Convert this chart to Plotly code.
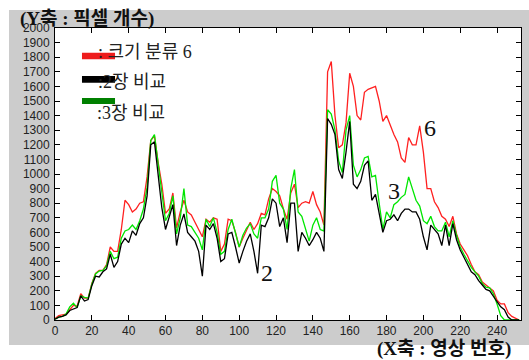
import plotly.graph_objects as go

# Image number (X axis)
x_vals = list(range(0, 254, 2))

# 크기 분류 6 (red)
red_vals = [10, 30, 35, 40, 70, 100, 95, 180, 150, 150,
            250, 320, 340, 340, 380, 500, 470, 470, 620, 820,
            790, 740, 760, 800, 810, 980, 1230, 1260, 1080, 930,
            730, 760, 870, 630, 740, 820, 740, 720, 670, 620,
            570, 690, 670, 700, 690, 470, 520, 690, 680, 600,
            500, 560, 620, 670, 620, 660, 730, 720, 830, 900,
            880, 850, 760, 690, 870, 930, 770, 800, 810, 800,
            880, 790, 740, 650, 1700, 1770, 1400, 1180, 1200, 1350,
            1690, 1600, 1400, 1370, 1560, 1580, 1590, 1600, 1500, 1360,
            1400, 1330, 1270, 1220, 1110, 1080, 1250, 1200, 1200, 1330,
            1150, 900, 900, 810, 770, 710, 690, 640, 710, 590,
            520, 480, 440, 380, 330, 310, 260, 240, 220, 200,
            135, 110, 110, 50, 25, 15, 0]

# 3장 비교 (green)
green_vals = [5, 20, 25, 40, 90, 115, 85, 165, 155, 150,
              245, 315, 335, 340, 370, 470, 420, 430, 560, 610,
              620, 650, 620, 680, 760, 910, 1230, 1270, 1070, 880,
              680, 730, 850, 590, 700, 900, 650, 640, 600, 560,
              480, 690, 640, 700, 600, 450, 470, 620, 690, 590,
              500, 580, 630, 660, 590, 560, 700, 700, 760, 950,
              990, 800, 760, 620, 900, 1030, 740, 710, 620, 540,
              650, 700, 620, 610, 1440, 1410, 1300, 1090, 1010, 1300,
              1400, 1060, 980, 1030, 1110, 1120, 980, 990, 800, 620,
              740, 700, 790, 810, 840, 860, 980, 900, 820, 780,
              680, 660, 710, 640, 610, 610, 670, 570, 680, 580,
              500, 450, 400, 360, 330, 300, 250, 225, 220, 180,
              110, 30, 0, 0, 0, 0, 0]

# 2장 비교 (black)
black_vals = [5, 20, 25, 35, 65, 75, 85, 165, 130, 140,
              235, 300, 295, 330, 350, 450, 360, 400, 520, 560,
              530, 610, 580, 660, 700, 850, 1200, 1220, 980, 770,
              620, 710, 790, 510, 650, 726, 600, 570, 540, 470,
              300, 650, 620, 660, 560, 400, 420, 590, 600, 500,
              390, 470, 540, 590, 470, 320, 650, 640, 700, 830,
              800, 640, 700, 530, 800, 800, 470, 600, 560, 510,
              550, 600, 560, 470, 1380, 1340, 1270, 1030, 970, 1150,
              1360, 930, 900, 950, 1060, 1090, 820, 860, 740, 600,
              680, 690, 720, 680, 730, 760, 760, 740, 740, 690,
              570, 480, 650, 620, 590, 510, 650, 510, 660, 550,
              480, 430, 380, 330, 310, 270, 240, 210, 200, 160,
              125, 90, 70, 20, 0, 0, 0]

x_ticks = list(range(0, 241, 20))
y_ticks = list(range(0, 2001, 100))

legend_labels = [": 크기 분류 6", ":2장 비교", ":3장 비교"]
curve_labels = ["2", "3", "6"]
title_y = "(Y축 : 픽셀 개수)"
title_x = "(X축 : 영상 번호)"

fig = go.Figure()
fig.add_trace(go.Scatter(x=x_vals, y=red_vals, mode="lines",
                         line=dict(color="#ff2020", width=1.3), name="6"))
fig.add_trace(go.Scatter(x=x_vals, y=green_vals, mode="lines",
                         line=dict(color="#00e600", width=1.3), name="3"))
fig.add_trace(go.Scatter(x=x_vals, y=black_vals, mode="lines",
                         line=dict(color="#000000", width=1.3), name="2"))

serif = "Liberation Serif, Noto Sans CJK KR, serif"
shapes = [
    dict(type="rect", xref="paper", yref="paper", x0=-0.0987, x1=1.05,
         y0=-0.0856, y1=1.0616, fillcolor="#cccccc", line=dict(width=0), layer="below"),
    dict(type="rect", xref="paper", yref="paper", x0=0, x1=1, y0=0, y1=1,
         fillcolor="#ffffff", line=dict(width=0), layer="below"),
    dict(type="rect", xref="paper", yref="paper", x0=0.0579, x1=0.1288,
         y0=0.8928, y1=0.9154, fillcolor="#ee1c1c", line=dict(width=0)),
    dict(type="rect", xref="paper", yref="paper", x0=0.0579, x1=0.1288,
         y0=0.8127, y1=0.8356, fillcolor="#000000", line=dict(width=0)),
    dict(type="rect", xref="paper", yref="paper", x0=0.0579, x1=0.1288,
         y0=0.7397, y1=0.7603, fillcolor="#008000", line=dict(width=0)),
]

annotations = [
    dict(text=legend_labels[0], x=0.088, y=0.9195, xref="paper", yref="paper",
         xanchor="left", yanchor="middle", showarrow=False,
         font=dict(family=serif, size=18, color="#222")),
    dict(text=legend_labels[1], x=0.088, y=0.8134, xref="paper", yref="paper",
         xanchor="left", yanchor="middle", showarrow=False,
         font=dict(family=serif, size=18, color="#222")),
    dict(text=legend_labels[2], x=0.086, y=0.7089, xref="paper", yref="paper",
         xanchor="left", yanchor="middle", showarrow=False,
         font=dict(family=serif, size=18, color="#222")),
    dict(text=curve_labels[0], x=0.455, y=0.161, xref="paper", yref="paper",
         xanchor="center", yanchor="middle", showarrow=False,
         font=dict(family=serif, size=24, color="#111")),
    dict(text=curve_labels[1], x=0.7275, y=0.4418, xref="paper", yref="paper",
         xanchor="center", yanchor="middle", showarrow=False,
         font=dict(family=serif, size=24, color="#111")),
    dict(text=curve_labels[2], x=0.8047, y=0.6575, xref="paper", yref="paper",
         xanchor="center", yanchor="middle", showarrow=False,
         font=dict(family=serif, size=24, color="#111")),
    dict(text="<b>" + title_y + "</b>", x=-0.0794, y=1.0308, xref="paper", yref="paper",
         xanchor="left", yanchor="middle", showarrow=False,
         font=dict(family=serif, size=19, color="#111")),
    dict(text="<b>" + title_x + "</b>", x=0.9835, y=-0.1009, xref="paper", yref="paper",
         xanchor="right", yanchor="middle", showarrow=False,
         font=dict(family=serif, size=19, color="#111")),
]

axis_common = dict(showgrid=False, zeroline=False, showline=True, linecolor="#000",
                   linewidth=1, mirror="ticks", ticks="inside", ticklen=5,
                   tickcolor="#000", tickwidth=1,
                   tickfont=dict(family="Liberation Sans, Arial, sans-serif", size=12, color="#222"))

fig.update_layout(
    width=529, height=360,
    margin=dict(l=55, r=8, t=28, b=40),
    paper_bgcolor="#ffffff", plot_bgcolor="#ffffff",
    showlegend=False,
    shapes=shapes, annotations=annotations,
    xaxis=dict(range=[0, 253], tickvals=x_ticks, ticktext=[str(v) for v in x_ticks], **axis_common),
    yaxis=dict(range=[0, 2000], tickvals=y_ticks, ticktext=[str(v) for v in y_ticks],
               ticklabelstandoff=2, **axis_common),
)

fig.write_html("out.html",
               config={"displayModeBar": False},
               post_script="document.body.style.margin='0';document.body.style.overflow='hidden';")
